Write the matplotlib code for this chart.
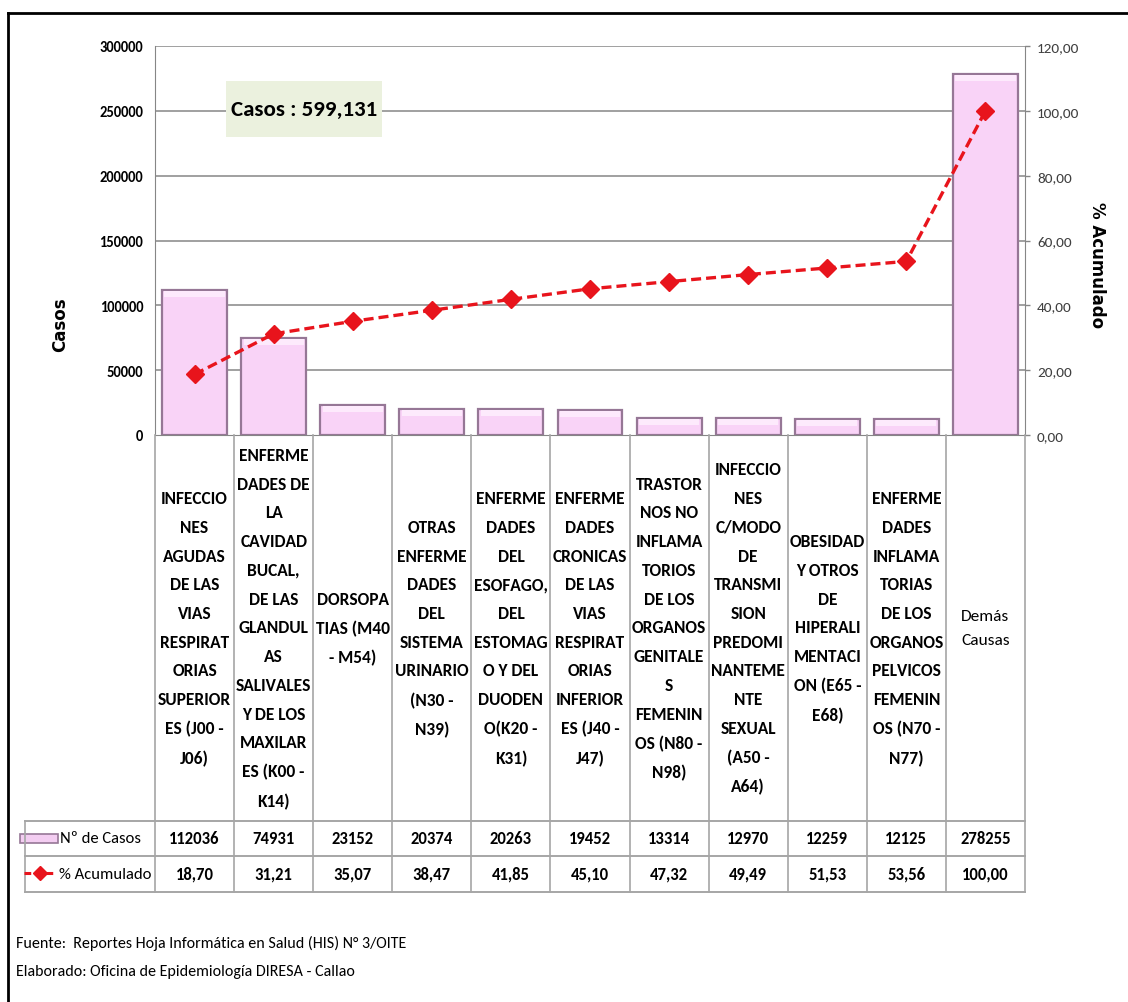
import matplotlib
matplotlib.use("Agg")
import matplotlib.pyplot as plt
import matplotlib.patches as mpatches
import matplotlib.lines as mlines
import matplotlib.transforms as mtransforms
from matplotlib.ticker import FixedLocator, FuncFormatter

plt.rcParams['font.family'] = ['Carlito', 'DejaVu Sans']

categorias = [
    "INFECCIO\nNES\nAGUDAS\nDE LAS\nVIAS\nRESPIRAT\nORIAS\nSUPERIOR\nES (J00 -\nJ06)",
    "ENFERME\nDADES DE\nLA\nCAVIDAD\nBUCAL,\nDE LAS\nGLANDUL\nAS\nSALIVALES\nY DE LOS\nMAXILAR\nES (K00 -\nK14)",
    "DORSOPA\nTIAS (M40\n- M54)",
    "OTRAS\nENFERME\nDADES\nDEL\nSISTEMA\nURINARIO\n(N30 -\nN39)",
    "ENFERME\nDADES\nDEL\nESOFAGO,\nDEL\nESTOMAG\nO Y DEL\nDUODEN\nO(K20 -\nK31)",
    "ENFERME\nDADES\nCRONICAS\nDE LAS\nVIAS\nRESPIRAT\nORIAS\nINFERIOR\nES (J40 -\nJ47)",
    "TRASTOR\nNOS NO\nINFLAMA\nTORIOS\nDE LOS\nORGANOS\nGENITALE\nS\nFEMENIN\nOS (N80 -\nN98)",
    "INFECCIO\nNES\nC/MODO\nDE\nTRANSMI\nSION\nPREDOMI\nNANTEME\nNTE\nSEXUAL\n(A50 -\nA64)",
    "OBESIDAD\nY OTROS\nDE\nHIPERALI\nMENTACI\nON (E65 -\nE68)",
    "ENFERME\nDADES\nINFLAMA\nTORIAS\nDE LOS\nORGANOS\nPELVICOS\nFEMENIN\nOS (N70 -\nN77)",
    "Demás\nCausas",
]
casos = [112036, 74931, 23152, 20374, 20263, 19452, 13314, 12970, 12259, 12125, 278255]
acumulado = [18.70, 31.21, 35.07, 38.47, 41.85, 45.10, 47.32, 49.49, 51.53, 53.56, 100.00]
left_ticks = [0, 50000, 100000, 150000, 200000, 250000, 300000]
right_ticks = [0, 20, 40, 60, 80, 100, 120]
total_text = "Casos : 599,131"
serie_casos = "Nº de Casos"
serie_acum = "% Acumulado"
fuente = "Fuente:  Reportes Hoja Informática en Salud (HIS) N° 3/OITE"
elaborado = "Elaborado: Oficina de Epidemiología DIRESA - Callao"

W, H = 1128, 1003
fig = plt.figure(figsize=(W / 100, H / 100), dpi=100)


def fx(x):
    return x / W


def fy(y):
    return 1 - y / H


AX_L, AX_R, AX_T, AX_B = 155, 1025, 47, 436
ax = fig.add_axes([fx(AX_L), fy(AX_B), fx(AX_R - AX_L), (AX_B - AX_T) / H])
ax2 = ax.twinx()

n = len(casos)
xs = list(range(n))
ax.set_xlim(-0.5, n - 0.5)
ax.set_ylim(0, 300000)
ax2.set_ylim(0, 120)

grid_c = '#868686'
for t in left_ticks[1:]:
    ax.axhline(t, color=grid_c, lw=1.1, zorder=0)

# bars with a simple bevel look
pink = '#F9D3F7'
edge = '#967796'
ax.bar(xs, casos, width=0.82, color=pink, edgecolor=edge, linewidth=1.6, zorder=2)
hl = 4600
ax.bar(xs, [hl] * n, bottom=[v - hl - 900 for v in casos], width=0.76,
       color='#FDEAFC', edgecolor='none', zorder=3)

ax2.plot(xs, acumulado, color='#E8141C', lw=2.4, ls=(0, (3, 1.5)), marker='D',
         markersize=9, markerfacecolor='#E8141C', markeredgecolor='#E8141C', zorder=5)

for a in (ax, ax2):
    a.set_xticks([])
    for s in a.spines.values():
        s.set_visible(False)

ax.spines['left'].set_visible(True)
ax.spines['left'].set_color(grid_c)
ax2.spines['right'].set_visible(True)
ax2.spines['right'].set_color(grid_c)
ax.spines['bottom'].set_visible(True)
ax.spines['bottom'].set_color(grid_c)

ax.yaxis.set_major_locator(FixedLocator(left_ticks))
ax.yaxis.set_major_formatter(FuncFormatter(lambda v, p: f"{int(v)}"))
ax.tick_params(axis='y', length=0, pad=8.5, labelsize=10.5)
for lab in ax.get_yticklabels():
    lab.set_fontweight('bold')

ax2.yaxis.set_major_locator(FixedLocator(right_ticks))
ax2.yaxis.set_major_formatter(FuncFormatter(lambda v, p: f"{v:.2f}".replace('.', ',')))
ax2.tick_params(axis='y', length=3.6, width=1, color=grid_c, pad=5, labelsize=11,
                labelcolor='#404040')

fig.text(fx(60), fy(325), "Casos", rotation=90, ha='center', va='center',
         fontsize=12, fontweight='bold', family='DejaVu Sans')
fig.text(fx(1097), fy(265), "% Acumulado", rotation=-90, ha='center', va='center',
         fontsize=12, fontweight='bold', family='DejaVu Sans')

# total box
fig.patches.append(mpatches.Rectangle((fx(226), fy(138)), fx(156), 56 / H,
                                      transform=fig.transFigure, facecolor='#EBF1DE',
                                      edgecolor='none', zorder=3))
fig.text(fx(304), fy(110), total_text, ha='center', va='center', fontsize=16.5,
         fontweight='bold', zorder=4)

# data table
tab_c = '#A6A6A6'
ROW1, ROW2, ROW3 = 822, 857, 893
TAB_L = 25
col_w = (AX_R - AX_L) / n


def hline(y, x0, x1):
    fig.add_artist(mlines.Line2D([fx(x0), fx(x1)], [fy(y), fy(y)], color=tab_c, lw=1.4,
                                 transform=fig.transFigure))


def vline(x, y0, y1):
    fig.add_artist(mlines.Line2D([fx(x), fx(x)], [fy(y0), fy(y1)], color=tab_c, lw=1.2,
                                 transform=fig.transFigure))


for y in (ROW1, ROW2, ROW3):
    hline(y, TAB_L, AX_R)
for k in range(n + 1):
    vline(AX_L + k * col_w, AX_B, ROW3)
vline(TAB_L, ROW1, ROW3)

blend = mtransforms.blended_transform_factory(ax.transData, fig.transFigure)
for i, lab in enumerate(categorias):
    fig.text(i, fy((AX_B + ROW1) / 2), lab, transform=blend, ha='center', va='center',
             fontsize=12.5, fontweight='normal' if i == n - 1 else 'bold',
             linespacing=1.98, multialignment='center')
    fig.text(i, fy((ROW1 + ROW2) / 2), f"{casos[i]}", transform=blend, ha='center',
             va='center', fontsize=12, fontweight='bold')
    fig.text(i, fy((ROW2 + ROW3) / 2), f"{acumulado[i]:.2f}".replace('.', ','),
             transform=blend, ha='center', va='center', fontsize=12, fontweight='bold')

# legend keys inside the table
fig.patches.append(mpatches.Rectangle((fx(20), fy(844)), fx(38), 9 / H,
                                      transform=fig.transFigure, facecolor='#F3CDF1',
                                      edgecolor=edge, lw=1.2))
fig.text(fx(60), fy((ROW1 + ROW2) / 2), serie_casos, ha='left', va='center',
         fontsize=12)
fig.add_artist(mlines.Line2D([fx(24), fx(56)], [fy(874), fy(874)], color='#E8141C',
                             lw=2.2, ls=(0, (2.2, 1.4)), transform=fig.transFigure))
fig.add_artist(mlines.Line2D([fx(40)], [fy(874)], color='#E8141C', marker='D',
                             markersize=7, transform=fig.transFigure))
fig.text(fx(59), fy((ROW2 + ROW3) / 2), serie_acum, ha='left', va='center',
         fontsize=12)

fig.text(fx(16), fy(943), fuente, ha='left', va='center', fontsize=11.5)
fig.text(fx(16), fy(972), elaborado, ha='left', va='center', fontsize=11.5)

# outer frame (top and left edges visible)
fig.add_artist(mlines.Line2D([fx(8), fx(W)], [fy(14), fy(14)], color='black', lw=2,
                             transform=fig.transFigure))
fig.add_artist(mlines.Line2D([fx(8), fx(8)], [fy(14), 0], color='black', lw=2,
                             transform=fig.transFigure))

fig.savefig("out.png", dpi=100, facecolor='white')
